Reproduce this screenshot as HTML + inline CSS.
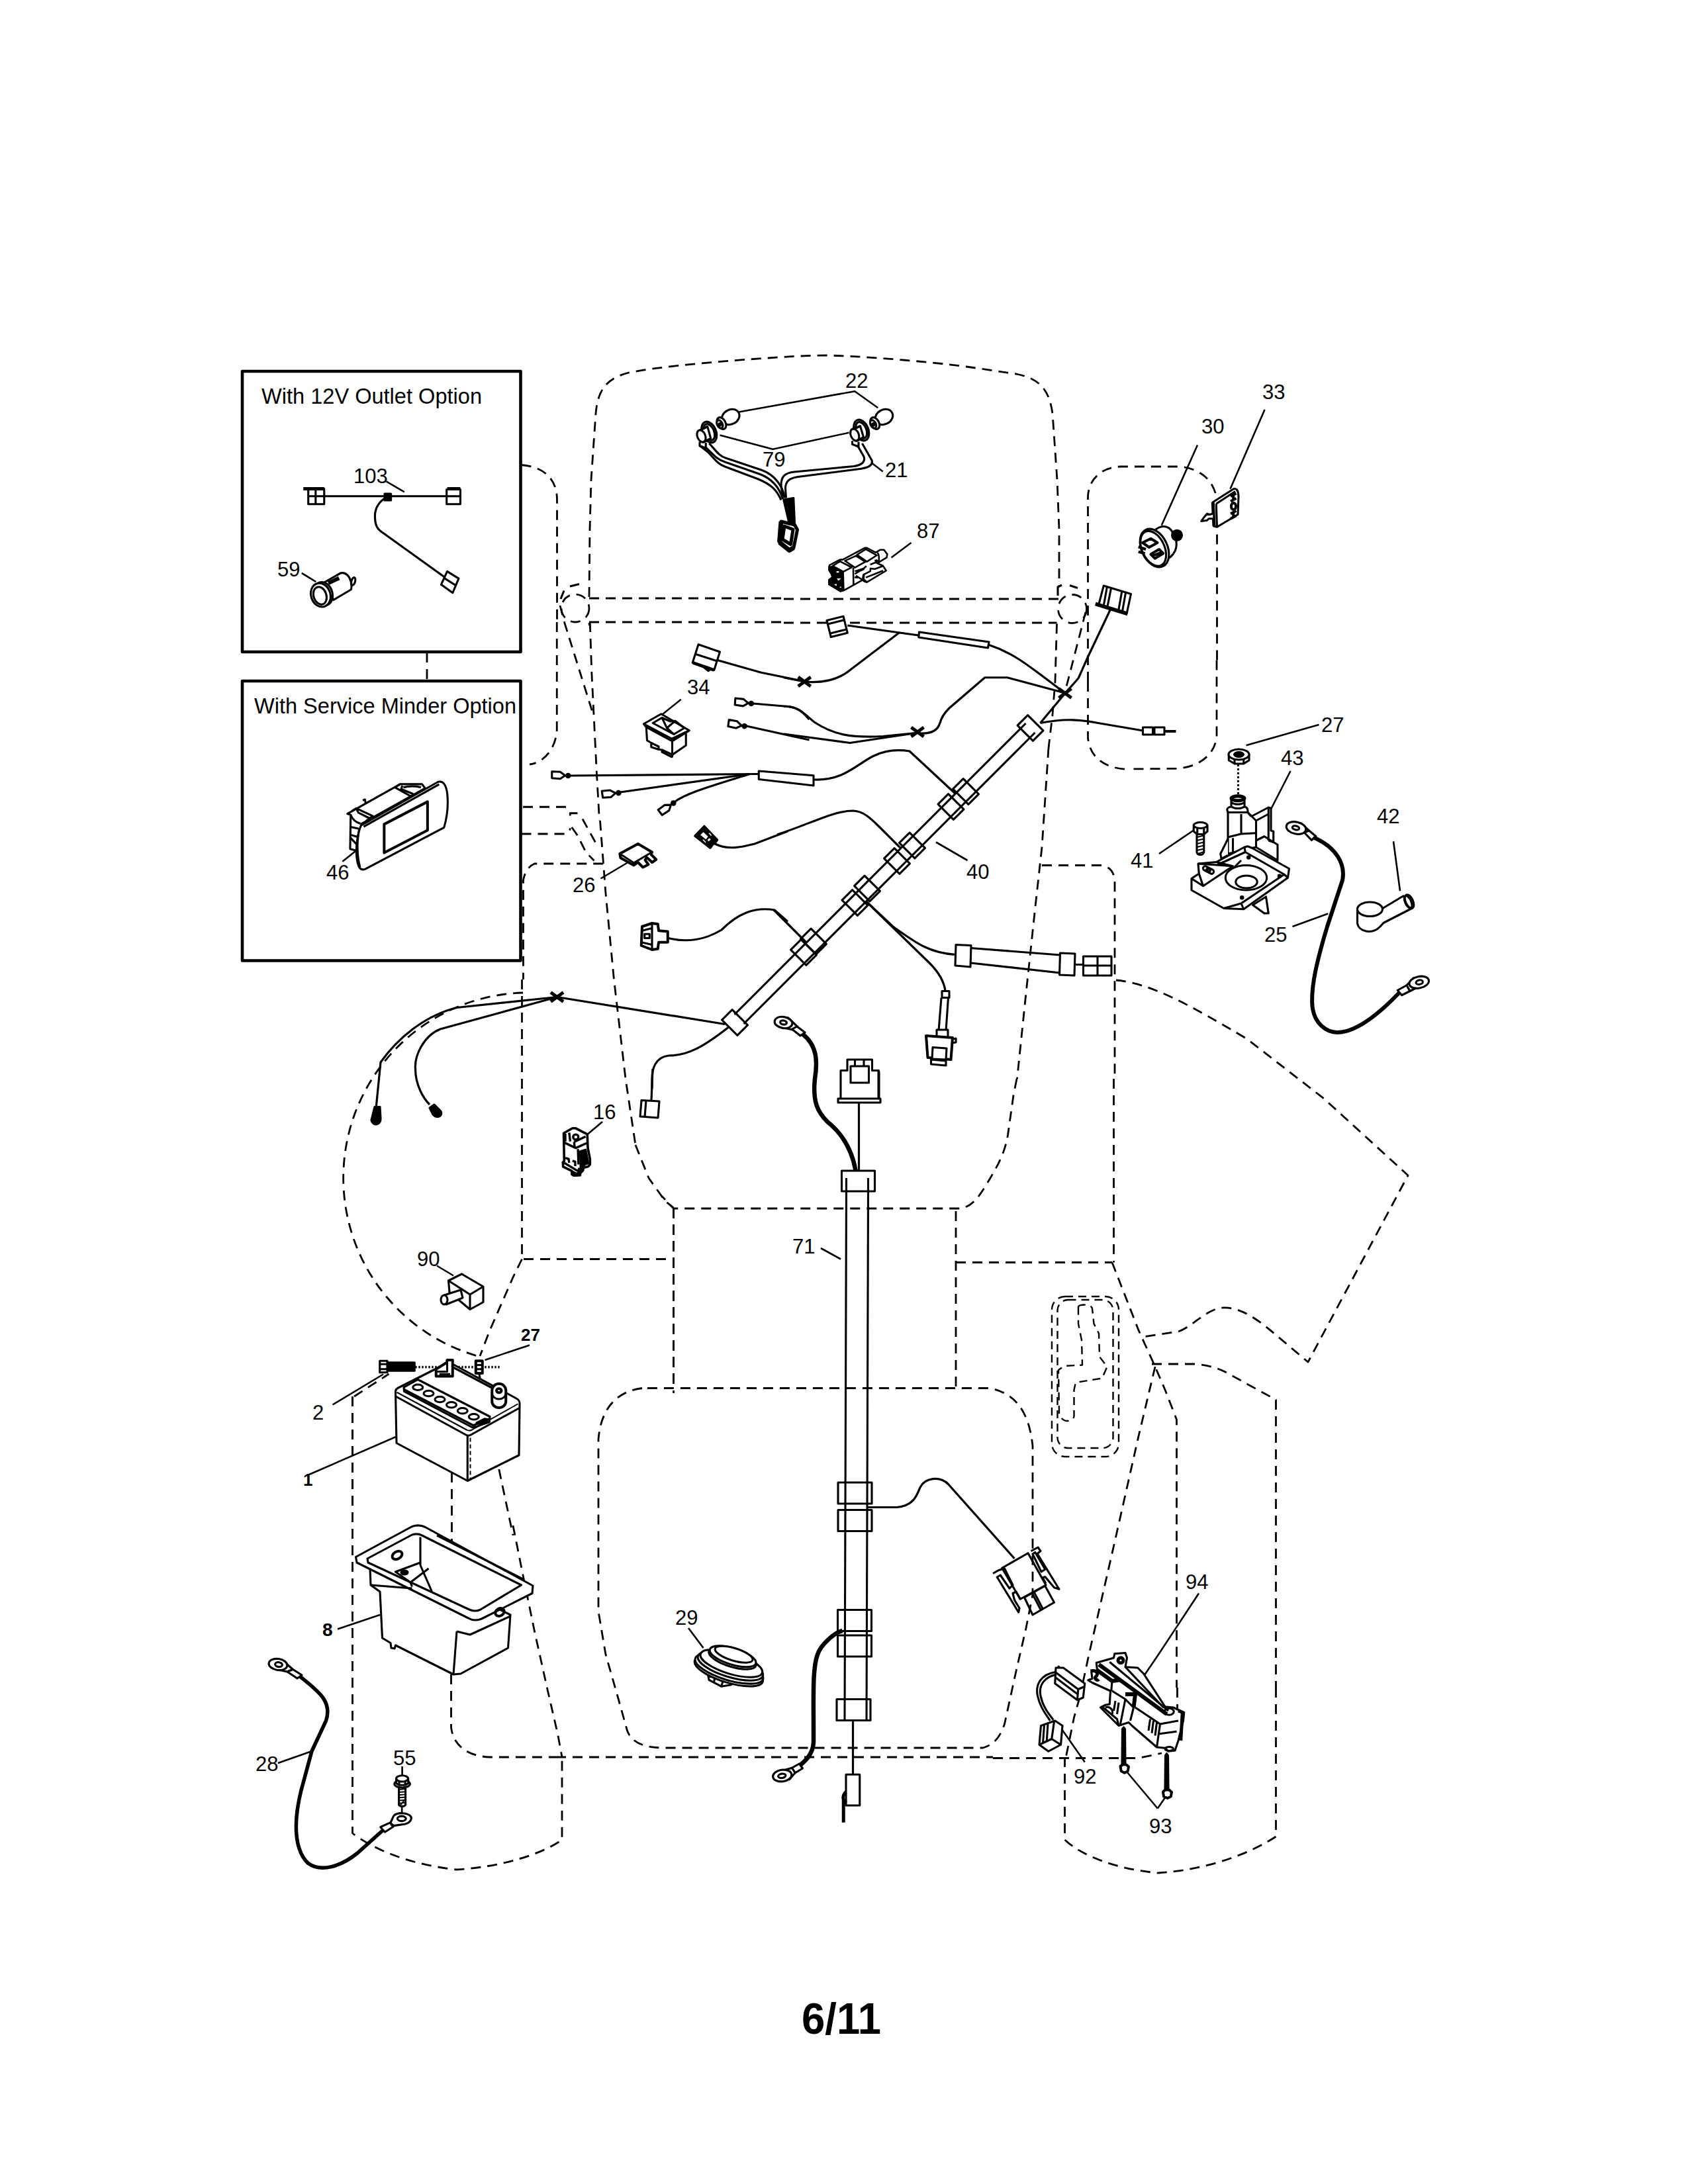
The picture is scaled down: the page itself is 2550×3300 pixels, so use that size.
<!DOCTYPE html>
<html lang="en">
<head>
<meta charset="utf-8">
<title>Electrical - Page 6/11</title>
<style>
html,body{margin:0;padding:0;background:#fff;}
body{width:2550px;height:3300px;overflow:hidden;}
svg{display:block;position:absolute;left:0;top:0;}
svg *{vector-effect:non-scaling-stroke;}
svg{fill:none;stroke:#000;stroke-width:3.1;stroke-linecap:butt;stroke-linejoin:round;}
.d{stroke-dasharray:15 10;stroke-width:2.8;}
.ds{stroke-dasharray:12 8;stroke-width:2.4;}
.l{stroke-width:2.6;}
.w{stroke-width:3.2;}
.k{stroke-width:7;stroke-linecap:round;}
.f{fill:#000;}
.wf{fill:#fff;}
text{font-family:"Liberation Sans",Arial,sans-serif;font-size:31px;fill:#000;stroke:none;}
text.b{font-weight:bold;font-size:26px;}
text.t{font-size:34px;}
text.pg{font-weight:bold;font-size:66px;}
</style>
</head>
<body>
<svg width="2550" height="3300" viewBox="0 0 2550 3300">
<rect x="0" y="0" width="2550" height="3300" fill="#fff" stroke="none"/>
<!-- option boxes -->
<rect x="366" y="561" width="420.5" height="424" stroke-width="4.6"/>
<text class="t" x="395" y="610" textLength="333" lengthAdjust="spacingAndGlyphs">With 12V Outlet Option</text>
<rect x="366" y="1029" width="420.5" height="422.5" stroke-width="4.6"/>
<text class="t" x="384" y="1078" textLength="396" lengthAdjust="spacingAndGlyphs">With Service Minder Option</text>
<path class="d" d="M645,986 V1029"/>
<text class="pg" x="1211" y="3073" textLength="120" lengthAdjust="spacingAndGlyphs">6/11</text>
<path class="d" d="M890,902 L891,800 L893,725 L900,625 C903,590 915,572 950,563 C1000,553 1100,545 1160,541 C1200,538 1230,537 1250,537 C1300,538 1400,546 1460,554 L1535,565 C1570,572 1585,588 1590,625 L1597,725 L1600,800 L1600,887"/>
<!-- dashed outlines top: A1 tile origin 340,530 (2x) -->
<g transform="translate(340,530) scale(0.5)">
<path class="d" d="M895,345 C960,350 1003,385 1003,450 L1003,820"/>
<path class="d" d="M1100,748 H1688 M1100,820 H1688"/>
<circle class="d" cx="1058" cy="778" r="42"/><path d="M1042,712 L1070,705 M1014,750 L1024,725"/>
<path class="d" d="M1012,770 L1025,820"/>
<path class="d" d="M1100,822 L1101,830"/>
</g>
<!-- A2 tile origin 1184,530 (2x) -->
<g transform="translate(1184,530) scale(0.5)">
<path class="d" d="M0,750 H830 M0,822 H825"/>
<circle class="d" cx="872" cy="780" r="43"/><path d="M828,740 V714 L840,708 M864,709 L888,717"/>
<path class="d" d="M825,825 L820,1000 L812,1100 L800,1200"/>
<path class="d" d="M912,790 L850,1030"/>
</g>
<!-- headlight harness (items 21,22,79) : 4x tile origin 1020,540 -->
<g transform="translate(1020,540) scale(0.25)">
<path class="l" d="M385,330 L1085,205 L1225,305"/>
<path class="l" d="M270,470 L590,555 L1050,455"/>
<path class="l" d="M1190,640 L1255,690"/>
<!-- left bulb -->
<g transform="translate(335,360) rotate(-28)"><ellipse rx="55" ry="44" class="wf"/></g>
<g transform="translate(280,398) rotate(-28)"><ellipse rx="24" ry="38" class="wf"/><ellipse cx="-12" rx="16" ry="26" class="wf"/><circle cx="-12" cy="2" r="7"/></g>
<!-- left socket -->
<g transform="translate(205,452) rotate(-22)"><ellipse rx="42" ry="66" class="wf"/><ellipse rx="30" ry="52"/></g>
<path class="wf" d="M150,440 L195,418 L215,490 L170,512 Z"/>
<g transform="translate(158,476) rotate(-22)"><ellipse rx="24" ry="38" class="wf"/></g>
<path d="M150,440 L195,418 M170,512 L215,492 M148,510 V535 L185,548 V515"/>
<!-- right bulb -->
<g transform="translate(1262,360) rotate(-28)"><ellipse rx="55" ry="44" class="wf"/></g>
<g transform="translate(1207,398) rotate(-28)"><ellipse rx="24" ry="38" class="wf"/><ellipse cx="-12" rx="16" ry="26" class="wf"/><circle cx="-12" cy="2" r="7"/></g>
<!-- right socket -->
<g transform="translate(1125,440) rotate(-22)"><ellipse rx="42" ry="66" class="wf"/><ellipse rx="30" ry="52"/></g>
<path class="wf" d="M1075,435 L1118,415 L1138,482 L1095,505 Z"/>
<g transform="translate(1085,468) rotate(-22)"><ellipse rx="24" ry="38" class="wf"/></g>
<path d="M1075,435 L1118,415 M1095,505 L1138,484 M1070,505 V525 L1108,540 V510"/>
<!-- wires -->
<path d="M150,535 L195,570 C245,620 250,640 300,660 L500,735 C580,768 612,800 640,862"/>
<path d="M185,545 C235,590 250,615 300,632 L510,705 C590,735 630,790 650,855"/>
<path d="M205,520 C245,560 262,595 305,608 L525,682 C605,712 650,780 662,850"/>
<path d="M1100,530 L1140,600 C1150,632 1128,650 1080,658 L720,692 C660,698 640,722 640,772 L650,855"/>
<path d="M1130,520 L1188,622 C1196,652 1170,668 1100,676 L742,722 C690,730 666,748 666,792 L670,850"/>
<!-- plug -->
<path d="M655,860 L715,850 L722,1000 L690,1010 Z" class="f"/>
<path stroke-width="5" d="M640,992 L722,1012 L738,1042 L716,1150 L690,1166 L630,1118 Z M660,1020 L712,1040 L698,1130 L648,1100 Z"/>
<path stroke-width="7" d="M640,992 L630,1118 M716,1150 L690,1166 L630,1118"/>
</g>
<text x="1277" y="586">22</text>
<text x="1152" y="705">79</text>
<text x="1337" y="721">21</text>
<text x="1385" y="813">87</text>
<!-- box1 contents: 6.0286x tile origin 440,700 -->
<g transform="translate(440,700) scale(0.165877)">
<path class="l" d="M865,165 L1030,262"/>
<path class="wf" d="M155,232 H300 V372 H155 Z"/>
<path d="M222,232 V372 M155,300 H300"/>
<path stroke-width="5" d="M110,232 H300"/>
<path class="w" d="M300,300 H1415"/>
<path class="f" d="M850,278 H908 V338 H850 Z"/>
<path class="wf" d="M1415,238 H1540 V372 H1415 Z"/>
<path d="M1415,300 H1540"/><path stroke-width="5" d="M1420,232 H1540"/>
<path class="w" d="M870,310 C790,350 762,420 762,480 C762,560 780,600 830,630 L1400,1040"/>
<path class="wf" d="M1420,985 L1525,1050 L1470,1180 L1365,1105 Z"/>
<path d="M1392,1045 L1498,1112"/>
<path class="l" d="M95,1000 L225,1080"/>
<!-- 59 socket -->
<path class="wf" d="M300,1085 L450,1000 C520,985 560,1080 545,1150 L385,1245 Z"/>
<g transform="translate(565,1075) rotate(15)"><ellipse rx="17" ry="36" class="wf"/></g>
<path stroke-width="6" d="M338,1092 L435,1046"/>
<g transform="translate(292,1188) rotate(-18)"><ellipse rx="82" ry="108" class="wf"/></g>
<g transform="translate(268,1200) rotate(-18)"><ellipse rx="88" ry="110" class="wf"/><ellipse cx="-8" cy="4" rx="58" ry="82"/></g>
</g>
<text x="534" y="730">103</text>
<text x="419" y="871">59</text>
<!-- 4x tile origin 800,940: switch 34, terminals -->
<defs>
<g id="term"><path class="wf" d="M0,-22 L50,-20 L80,2 L50,22 L0,18 Z"/><circle class="f" cx="98" cy="3" r="11"/><path d="M80,2 H98"/></g>
</defs>
<g transform="translate(800,940) scale(0.25)">
<path class="d" d="M165,0 V650 C160,760 90,850 0,860"/>
<path class="d" d="M210,0 L385,560"/>
<path class="d" d="M365,0 L375,300 L390,600 L405,900 L422,1200"/>
<!-- connector -->
<path class="wf" d="M1020,135 L1150,180 L1115,290 L985,245 Z"/>
<path d="M1002,193 L1135,236"/>
<path stroke-width="5" d="M988,246 L1115,290"/><path class="f" d="M1040,262 L1095,282 L1080,295 Z"/>
<path class="w" d="M1135,230 L1400,305 L1650,356"/>

<path class="l" d="M915,467 L800,560"/>
<!-- switch -->
<path class="wf" d="M690,615 L795,555 L965,655 L945,668 V745 L865,800 L860,815 L800,785 V772 L780,770 L735,755 V730 L710,715 L705,635 Z"/>
<path d="M690,615 L860,705 L965,655 M705,635 L862,720 L945,668 M862,705 V815 M735,730 L780,752 V770 M800,772 L860,800"/>
<path d="M745,610 L800,578 L850,600 L880,597 L935,640 L872,678 Z M800,578 L830,640 L872,678 M830,640 L880,597"/>
<!-- terminals -->
<use href="#term" transform="translate(1242,482) rotate(4)"/>
<path class="w" d="M1350,492 L1560,510 C1640,518 1660,560 1690,588"/>
<use href="#term" transform="translate(1202,612) rotate(8)"/>
<path class="w" d="M1310,628 L1690,712"/>
<use href="#term" transform="translate(135,925)"/>
<path class="w" d="M245,928 L1385,918"/>
<path class="wf" d="M1385,900 L1716,927 V988 L1385,950 Z"/>
<use href="#term" transform="translate(440,1043) rotate(-8)"/>
<path class="w" d="M548,1028 L1330,918"/>
<use href="#term" transform="translate(790,1152) rotate(-38)"/>
<path class="w" d="M872,1090 C940,1035 1100,990 1330,918"/>
</g>
<text x="1038" y="1049">34</text>
<!-- 4x tile origin 1184,790: item 87, upper wires -->
<defs><g id="xn"><path stroke-width="5" d="M-38,-28 L38,28 M-38,28 L38,-28"/><circle r="12" class="f" stroke="none"/></g></defs>
<g transform="translate(1184,790) scale(0.25)">
<path class="l" d="M650,210 L770,120"/>
<!-- connector + sleeve wire -->
<path class="wf" d="M260,590 L360,565 L385,665 L285,690 Z"/>
<path d="M266,612 L366,587 M282,668 L380,644"/>
<path class="w" d="M385,620 L815,680"/>
<path class="wf" d="M818,660 L1240,720 L1234,756 L815,692 Z"/>
<path class="w" d="M1238,737 C1400,790 1500,880 1690,1022"/>
<path class="w" d="M700,662 L400,890 C340,940 260,965 160,962 L125,960 L0,935"/>
<use href="#xn" transform="translate(125,960)"/>
<path class="w" d="M1690,1026 L1350,935 H1215 L1000,1120 C965,1155 950,1180 945,1210"/>
<path class="w" d="M0,1110 C80,1105 120,1150 185,1205"/>
</g>
<!-- 4x tile origin 1606,690: items 30,33, connector -->
<g transform="translate(1606,690) scale(0.25)">
<path class="d" d="M150,1360 V240 C155,130 240,62 350,60 H700 C820,70 895,130 922,225"/>
<path class="d" d="M930,470 V1230"/>
<path class="l" d="M812,-70 L595,415 M1218,-284 L1010,195"/>
<!-- 30 -->
<path class="wf" d="M560,440 C600,410 640,420 660,455 C690,500 700,560 650,605 L600,640 Z"/>
<circle class="f" cx="688" cy="475" r="30"/>
<g transform="translate(552,552) rotate(-25)"><ellipse rx="78" ry="122" class="wf"/><ellipse cx="-8" cy="0" rx="68" ry="112"/></g>
<path stroke-width="4" d="M480,520 L530,495 L570,520 L520,548 Z M530,590 L580,560 L605,585 L555,615 Z M455,545 L500,560 M455,575 L495,585 M540,600 L590,580"/>
<!-- 33 key -->
<path class="wf" d="M905,275 L1030,195 C1050,190 1058,205 1060,240 L1056,350 L930,425 L910,420 Z"/>
<path d="M925,285 L1040,210 M925,285 L930,425" />
<path stroke-width="5" d="M905,275 L912,420"/>
<path stroke-width="4" d="M1012,240 L1046,222 M1029,232 V262 M1012,270 L1046,252 M1012,345 L1046,327 M1029,337 V367 M1012,375 L1046,357"/>
<ellipse cx="1030" cy="300" rx="14" ry="20" stroke-width="4"/>
<path class="wf" d="M905,345 L885,350 L870,345 L850,368 L835,390 L870,385 L880,375 L905,375"/>
<!-- connector -->
<path class="wf" d="M245,780 L410,830 L385,945 L215,895 Z"/>
<path d="M265,790 L245,900 M290,795 L268,905 M355,815 L335,928 M378,822 L358,935"/>
<path stroke-width="6" d="M195,890 L390,950"/>
<path class="w" d="M285,925 L150,1210 L92,1340"/>
</g>
<text x="1815" y="655">30</text>
<text x="1907" y="603">33</text>
<!-- 4x tile origin 1780,1080: solenoid 43, nut 27, bolt 41, cable 25 top -->
<g transform="translate(1780,1080) scale(0.25)">
<path class="d" d="M232,-330 V130 C222,240 130,312 0,325 L-300,328"/>
<path class="l" d="M410,185 L850,60 M678,340 L560,570 M1300,765 L1340,1065 M-116,840 L90,700"/>
<!-- nut 27 -->
<path class="wf" d="M305,240 V275 L340,296 H395 L428,275 V240 Z"/>
<ellipse class="wf" cx="366" cy="240" rx="62" ry="32"/>
<ellipse class="f" cx="366" cy="240" rx="28" ry="14"/>
<path d="M340,270 V296 M395,270 V296"/>
<path stroke-dasharray="3 3" d="M362,300 V480"/>
<!-- bolt 41 -->
<path class="wf" d="M112,715 V830 C115,852 150,852 155,830 V715 Z"/>
<path stroke-width="2" d="M112,740 L155,730 M112,760 L155,750 M112,780 L155,770 M112,800 L155,790 M112,820 L155,810 M118,840 L150,830"/>
<path class="wf" d="M93,670 V705 L115,722 H155 L176,705 V670 Z"/>
<ellipse class="wf" cx="134" cy="668" rx="41" ry="18"/>
<path d="M115,688 V722 M155,688 V722"/>
<!-- solenoid -->
<path class="wf" d="M440,615 L545,560 L560,565 V700 L575,705 V770 L600,785 V880 L470,800 Z"/>
<path d="M545,560 V760 M470,640 L545,600 M575,770 L545,760 M600,880 L590,890"/>
<path class="wf" d="M300,590 V840 L470,800 V640 L420,590 Z"/>
<path class="wf" d="M295,575 C295,560 320,555 320,555 V510 C330,490 390,490 400,510 V555 C420,560 420,575 420,590 H300 Z"/>
<path d="M320,530 C340,545 380,545 400,530 M320,555 C340,570 380,570 400,555 M380,600 V720 M300,740 L380,720 L470,715 M330,745 V830 M420,590 L440,615 M470,760 L520,735 L575,770"/>
<ellipse cx="360" cy="505" rx="40" ry="14" stroke-width="5"/>
<path class="wf" d="M300,750 L255,840 L260,870 L300,850"/>
<!-- base -->
<path class="wf" d="M120,900 L230,890 L400,800 L420,795 L445,805 L670,930 L662,985 L395,1175 L275,1170 L80,1060 V990 L125,960 Z"/>
<path d="M400,800 L405,830 L230,910 M405,830 L640,965 L662,985 M640,965 L380,1140 L275,1170 M380,1140 L395,1175 M80,990 L150,1035 M125,960 L150,1035 L330,915 L120,900 M230,890 L330,915 M380,880 L340,920"/>
<ellipse cx="410" cy="985" rx="125" ry="75" class="wf"/>
<ellipse cx="412" cy="1010" rx="65" ry="38"/>
<g transform="translate(182,938) rotate(28)"><rect x="-35" y="-13" width="70" height="26" rx="13"/><ellipse rx="12" ry="7"/></g>
<circle class="f" cx="425" cy="862" r="7"/><circle class="f" cx="612" cy="975" r="7"/><circle class="f" cx="385" cy="1105" r="7"/>
<path class="wf" d="M450,1150 L530,1100 L545,1200 L520,1200 Z"/>
<!-- cable 25 top -->
<path class="wf" d="M740,655 L790,700 L762,712 L725,718 Z"/>
<g transform="translate(712,684) rotate(12)"><ellipse rx="60" ry="36" class="wf"/><ellipse cx="-2" rx="21" ry="12"/></g>
<path class="wf" d="M762,712 L790,700 L832,735 L805,758 Z"/>
</g>
<text x="1996" y="1106">27</text>
<text x="1935" y="1156">43</text>
<text x="2080" y="1244">42</text>
<text x="1708" y="1311">41</text>
<!-- 4x tile origin 1860,1300: cable 25, boot 42 -->
<g transform="translate(1860,1300) scale(0.25)">
<path stroke-width="6" stroke-linecap="round" d="M505,-135 C630,-80 692,20 672,120 L580,400 C520,600 480,760 490,880 C500,990 580,1040 640,1040 C760,1040 900,920 1015,800"/>
<path class="wf" d="M1005,785 L1060,755 L1080,790 L1030,815 Z"/>
<path class="wf" d="M1060,755 L1100,712 L1120,770 L1080,790 Z"/>
<g transform="translate(1135,737) rotate(-12)"><ellipse rx="60" ry="35" class="wf"/><ellipse cx="2" rx="21" ry="13"/></g>
<path class="l" d="M370,400 L585,322"/>
<!-- boot 42 -->
<path class="wf" d="M762,295 V380 C770,430 850,452 900,400 L920,378 L1095,288 L1040,215 L915,290 Z"/>
<ellipse class="wf" cx="838" cy="295" rx="76" ry="43"/>
<g transform="translate(1076,248) rotate(-25)"><ellipse rx="22" ry="44" class="wf"/><ellipse cx="-8" rx="18" ry="40"/></g>
</g>
<text x="1910" y="1423">25</text>
<!-- 2x tile origin 1184,1030: main harness 40 -->
<defs><g id="cl"><rect x="-22" y="-33" width="44" height="66"/></g></defs>
<g transform="translate(1184,1030) scale(0.5)">
<!-- dashed -->
<path class="d" d="M800,200 L780,500 L760,680 L730,960 L705,1200"/>
<path class="d" d="M919,0 V170 C925,230 970,262 1040,265 H1050"/>
<path class="d" d="M780,555 H960 C990,560 1000,580 1000,610 V1200"/>
<!-- conduit -->
<path d="M731,126 L-149,1006 M759,154 L-121,1034"/>
<path class="w" d="M775,125 L850,35 L890,-10"/>
<path class="w" d="M775,125 C850,110 900,115 950,125 L1085,148"/>
<path class="wf" d="M1085,138 H1115 V160 H1085 Z M1120,138 H1150 V160 H1120 Z"/><path stroke-width="4" d="M1150,150 H1185"/>
<path class="w" d="M472,124 C465,150 440,160 400,155 L300,165 C200,170 150,160 92,122"/>
<path class="w" d="M400,155 L200,185 L0,158"/>
<path class="w" d="M90,296 C180,300 220,250 270,225 C310,205 350,205 380,210 L520,340"/>
<path class="w" d="M-20,462 C80,430 150,390 210,390 C240,392 260,410 290,440 L355,505"/>
<path class="w" d="M250,665 L330,740 C400,790 440,820 520,825"/>
<path class="w" d="M250,665 L440,850 C470,880 485,910 488,935"/>
<path class="w" d="M-30,690 L70,790"/>
<use href="#xn" transform="translate(850,35) scale(0.5)"/>
<use href="#xn" transform="translate(404,152) scale(0.5)"/>
<g transform="translate(745,140) rotate(-45)"><use href="#cl"/></g>
<g transform="translate(550,332) rotate(-45)"><use href="#cl"/></g>
<g transform="translate(505,378) rotate(-45)"><use href="#cl"/></g>
<g transform="translate(388,495) rotate(-45)"><use href="#cl"/></g>
<g transform="translate(342,542) rotate(-45)"><use href="#cl"/></g>
<g transform="translate(252,625) rotate(-45)"><use href="#cl"/></g>
<g transform="translate(215,668) rotate(-45)"><use href="#cl"/></g>
<g transform="translate(90,785) rotate(-45)"><use href="#cl"/></g>
<g transform="translate(60,818) rotate(-45)"><use href="#cl"/></g>
<g transform="translate(-148,1030) rotate(-45)"><use href="#cl"/></g>
<!-- horizontal sleeve -->
<path d="M565,805 L835,826 M565,850 L835,880 M880,855 H905"/>
<path class="wf" d="M520,795 L566,797 L564,862 L518,858 Z M835,820 L880,822 L878,888 L833,886 Z"/>
<path class="wf" d="M905,830 H990 V888 H905 Z"/><path d="M948,830 V888 M905,858 H990"/>
<!-- vertical connector -->
<path class="wf" d="M478,935 H500 V955 H478 Z"/>
<path d="M476,955 L468,1055 M497,955 L490,1055"/>
<path class="wf" d="M462,1052 H496 V1075 H462 Z"/>
<path class="wf" stroke-width="4" d="M430,1070 L510,1076 L505,1142 L435,1136 Z"/>
<path class="wf" d="M450,1105 L492,1108 L490,1142 L448,1140 Z M445,1142 L490,1146 V1160 L445,1156 Z"/>
<path d="M510,1080 L520,1078 V1090 L508,1092"/>
<path class="l" d="M460,485 L555,540"/>
</g>
<text x="1460" y="1328">40</text>
<!-- 2x tile origin 340,1030: service minder 46, fuse 26, left wires -->
<g transform="translate(340,1030) scale(0.5)">
<path class="d" d="M1133,420 L1150,640 L1175,900 L1210,1200 L1240,1400"/>
<!-- wires left -->
<path class="w" d="M1003,953 L700,985 C600,1010 520,1080 470,1150 L455,1300"/>
<path class="w" d="M1003,953 L650,1050 C600,1070 572,1130 575,1170 C575,1220 600,1260 618,1278"/>
<path class="w" d="M1003,953 L1510,1035"/>
<use href="#xn" transform="translate(1003,953) scale(0.5)"/>
<path class="w" d="M1520,1045 C1450,1100 1400,1130 1340,1130 C1300,1135 1290,1170 1290,1200 V1230"/>
<!-- fuse 26 -->
<!-- connector plug -->
<path class="w" d="M1340,775 C1400,790 1450,780 1500,750 C1550,700 1600,680 1660,690 L1700,725"/>
<!-- dark connector -->
<path class="w" d="M1480,490 C1520,510 1560,500 1600,490 L1700,452"/>
<g transform="translate(1320,400) scale(0.165876)"><path class="f" d="M600,400 L770,220 L1010,470 L960,540 L930,550 L880,620 Z"/><path class="wf" stroke="none" d="M700,380 L755,330 L840,410 L800,460 Z M850,350 L870,345 L905,385 L895,400 Z M830,470 L860,440 L890,460 L850,500 Z M740,470 L760,465 L800,510 L790,525 Z"/></g>
</g>
<text x="493" y="1329">46</text>
<text x="865" y="1348">26</text>
<!-- 2x tile origin 340,1630: left arc, items 16, 90 -->
<path class="d" d="M790,1500 A280,280 0 0 0 725,2050"/>
<g transform="translate(340,1630) scale(0.5)">
<path class="d" d="M897,-300 V545 H1355"/>
<path class="d" d="M897,545 L870,600 L800,760 L770,838"/>
<path class="d" d="M1240,200 L1280,300 L1330,370 L1355,390"/>
<path class="d" d="M1355,390 V920"/>
<path class="d" d="M385,960 V1300"/>
<path class="d" d="M390,960 L495,892"/>
<path stroke-dasharray="2 3" d="M575,872 H830"/>
<!-- wire ends -->
<path class="f" d="M452,85 L468,85 L470,120 C472,140 445,145 442,125 Z"/>
<path class="f" d="M618,88 L632,78 L652,98 C660,112 640,122 628,108 Z"/>
<path class="w" d="M1292,-30 L1288,65"/>
<path class="wf" d="M1258,65 L1312,68 L1308,118 L1254,114 Z"/><path d="M1272,66 L1268,115"/>
<!-- 16 -->
<path class="l" d="M1140,130 L1090,172"/>
<!-- 90 -->
<path class="l" d="M640,565 L690,595"/>
<path class="wf" d="M675,610 L715,590 L780,628 V675 L740,697 L678,645 Z"/>
<path d="M675,610 L740,652 L780,628 M740,652 V697"/>
<path class="wf" d="M662,654 L712,638 L718,662 L668,682 Z"/>
<ellipse class="wf" cx="662" cy="668" rx="10" ry="14"/>
<path class="l" d="M920,805 L785,850 M325,985 L478,893"/>
</g>
<text x="896" y="1691">16</text>
<text x="630" y="1913">90</text>
<text class="b" x="787" y="2026">27</text>
<text x="472" y="2145">2</text>
<!-- 4x tile origin 520,2020: battery 1, bolt 2 -->
<g transform="translate(520,2020) scale(0.25)">
<path class="d" d="M650,820 V1900"/>
<path class="d" d="M935,800 L1020,1200"/>
<path class="l" d="M-212,832 L310,605"/>
<path stroke-dasharray="2 3" d="M430,181 H940"/>
<!-- battery body -->
<path class="wf" d="M310,330 C310,318 318,312 330,306 L600,170 C625,158 640,158 665,170 L1040,372 C1058,382 1062,392 1060,410 L1056,715 L745,870 L316,642 Z"/>
<path d="M312,360 L735,592 C745,598 755,598 765,592 L1058,430 M745,598 V870"/>
<path d="M318,335 L740,562 C750,568 760,568 772,562 L1050,405" stroke-width="2"/>
<path stroke-width="2" stroke-dasharray="6 4" d="M762,610 V860"/>
<!-- cap strip -->
<path class="wf" d="M360,305 L445,258 L880,482 L878,512 L800,542 L775,548 L362,330 Z"/>
<path d="M362,318 L780,535 L878,495"/>
<ellipse cx="445" cy="305" rx="30" ry="17"/><ellipse cx="510" cy="342" rx="30" ry="17"/><ellipse cx="578" cy="378" rx="30" ry="17"/><ellipse cx="648" cy="411" rx="30" ry="17"/><ellipse cx="715" cy="447" rx="30" ry="17"/><ellipse cx="783" cy="483" rx="30" ry="17"/>
<path class="f" d="M800,520 L850,495 L878,500 L876,515 L830,530 Z"/>
<!-- terminal -->
<path class="w" d="M660,185 L900,312"/>
<path class="wf" stroke-width="4" d="M893,325 A42,42 0 0 1 977,325 V390 A42,38 0 0 1 893,390 Z"/>
<path d="M893,340 A42,36 0 0 0 977,340"/><ellipse cx="935" cy="325" rx="15" ry="12" stroke-width="4"/>
<!-- bracket -->
<path class="wf" stroke-width="4" d="M555,195 L620,155 L622,140 L655,140 V238 H555 Z"/>
<path d="M555,210 H622 V155 M575,225 H640"/>
<!-- bolt 2 -->
<path class="wf" d="M215,145 H260 V215 H215 Z"/><path d="M215,165 H260 M215,195 H260"/>
<path class="f" d="M262,155 H425 V205 H262 Z"/>
<!-- nut -->
<path class="wf" stroke-width="4" d="M795,145 H835 V220 H795 Z"/><path d="M795,170 H835 M795,195 H835 M815,220 L822,260"/>
</g>
<text class="b" x="458" y="2245">1</text>
<!-- 2x tile origin 1000,1480: conduit 71 top, connector, hood bottom -->
<g transform="translate(1000,1480) scale(0.5)">
<path class="d" d="M1072,300 L1062,350 L1045,470 C1035,530 1010,570 980,620 C950,670 930,688 900,692 H35 L0,655"/>
<path class="d" d="M35,692 V1250"/>
<path class="d" d="M888,700 V1250"/>
<path class="d" d="M888,855 H1360"/>
<path class="d" d="M1365,300 V855"/>
<!-- ring terminal and thick cable -->
<path class="wf" d="M380,115 L410,143 L395,152 L372,147 Z"/>
<g transform="translate(367,130) rotate(10)"><ellipse class="wf" rx="27" ry="17"/><ellipse rx="10" ry="6"/></g>
<path class="wf" d="M393,150 L408,142 L432,160 L418,170 Z"/>
<path stroke-width="6.5" d="M425,165 C470,200 470,250 462,300 C455,370 470,400 500,430 C550,470 575,520 585,577"/>
<!-- connector -->
<path class="wf" d="M560,242 H635 V275 H655 V360 H660 V372 H532 V360 H540 V275 H560 Z"/>
<path d="M570,262 H625 V312 H570 Z M583,242 V262 M610,242 V262 M540,360 H655"/>
<path stroke-width="4" d="M655,278 V360"/>
<path class="w" d="M595,372 V577"/>
<!-- conduit 71 -->
<path d="M543,578 H643 V640 H543 Z M557,600 V640 M623,600 V640"/>
<path class="l" d="M480,812 L540,845"/>
</g>
<text x="1197" y="1894">71</text>
<!-- platform outline (global) -->
<path class="d" d="M1686,1481 C1740,1486 1800,1520 1884,1570 L2000,1660 L2127,1776 L1976,2058 L1925,2015 C1890,1985 1865,1972 1840,1977 C1815,1985 1800,2005 1780,2012 L1727,2020"/>
<!-- 2x tile origin 1500,1900: right fender top, shifter slot -->
<g transform="translate(1500,1900) scale(0.5)">
<path class="d" d="M360,15 L440,220 L490,330 L520,400 L555,490 V1300"/>
<path class="d" d="M480,322 H610 C650,325 680,335 700,345 L855,430 V1300"/>
<path class="d" d="M490,330 L440,540 L370,850 L290,1200 L262,1330"/>
<rect class="ds" x="178" y="118" width="202" height="484" rx="40"/>
<rect class="ds" x="195" y="128" width="168" height="448" rx="32"/>
<path class="ds" d="M258,150 C258,140 300,140 300,155 L305,200 L320,230 L322,300 L345,330 L330,365 L250,378 L245,400 V480 C240,500 205,500 200,470 L198,340 L215,328 L270,325 L268,250 L258,200 Z"/>
<path class="l" d="M622,1015 L500,1200 L432,1300"/>
</g>
<text x="1791" y="2401">94</text>
<!-- 2x tile origin 840,2060: seat outline, conduit 71 lower, item 29 -->
<defs><g id="vc"><rect x="-51" y="-32" width="102" height="64"/></g></defs>
<g transform="translate(840,2060) scale(0.5)">
<path class="d" d="M260,75 C180,85 135,140 128,230 V750 L150,880 L190,1020 L215,1110 C230,1150 270,1160 320,1162 H1290 C1330,1150 1345,1120 1355,1090 L1390,930 L1420,800 L1440,700 V250 C1430,150 1390,90 1310,75 Z"/>
<path class="d" d="M0,1190 H1320"/>
<!-- conduit -->
<path d="M877,-520 L872,1078 M943,-520 L938,1078"/>
<path class="w" d="M897,1078 V1242"/>
<use href="#vc" transform="translate(903,392)"/><use href="#vc" transform="translate(903,475)"/><use href="#vc" transform="translate(902,777)"/><use href="#vc" transform="translate(902,854)"/><use href="#vc" transform="translate(899,1047)"/>
<path class="w" d="M940,435 H1030 C1080,430 1090,400 1100,375 C1115,345 1160,340 1185,365 L1385,590"/>
<path stroke-width="6.5" d="M865,808 C840,815 800,850 790,880 C775,920 778,1000 778,1100 V1145 C776,1180 755,1200 738,1214"/>
<!-- 29 -->
<path class="l" d="M400,800 L445,860"/>
</g>
<g transform="translate(1020,2440) scale(0.12441)">
<path class="wf" d="M400,740 L410,790 L560,870 L680,850 L690,810 Z"/><path d="M480,770 L470,820 M580,800 L560,870"/>
<g transform="translate(650,685) rotate(17)"><ellipse class="wf" rx="432" ry="138"/></g>
<g transform="translate(655,655) rotate(17)"><ellipse class="wf" rx="430" ry="138"/></g>
<g transform="translate(670,622) rotate(17)"><ellipse class="wf" rx="412" ry="134"/></g>
<g transform="translate(682,590) rotate(17)"><ellipse class="wf" rx="392" ry="128"/></g>
<g transform="translate(695,528) rotate(17)"><ellipse class="wf" rx="300" ry="104"/></g>
<g transform="translate(700,505) rotate(17)"><ellipse class="wf" rx="292" ry="100"/></g>
<g transform="translate(712,480) rotate(17)"><ellipse class="wf" rx="238" ry="76"/></g>
</g>
<text x="1020" y="2455">29</text>
<!-- 2x tile origin 340,2230: tray 8, cable 28, bolt 55, left rear fender -->
<g transform="translate(340,2230) scale(0.5)">
<path class="d" d="M385,-240 V1080 C450,1130 560,1175 700,1190 C850,1180 960,1140 1018,1100 V855"/>
<path class="d" d="M683,600 V760 C690,820 740,848 800,850 H1000"/>
<path class="d" d="M870,150 L900,300 L935,470 L975,650 L1005,780 L1018,850"/>
<!-- tray 8 -->
<path class="wf" d="M438,280 L440,330 L468,350 L475,490 L500,505 L502,520 L512,522 L515,512 L690,600 L712,598 L855,520 L862,420 L700,340 Z"/>
<path class="wf" d="M395,245 L565,153 C580,148 595,150 605,155 L930,332 L928,355 L775,432 C760,438 745,436 735,430 L398,262 Z"/>
<path class="wf" d="M430,250 L565,178 C578,174 588,176 595,180 L895,330 L770,405 C758,410 748,408 740,405 L432,262 Z"/>
<path d="M590,185 V270 L625,350 M590,262 L515,290 L560,322 L615,280 M560,322 L565,335 M700,470 L690,600 M700,470 L740,480 L860,425 M440,330 L565,340 M640,180 L900,312"/>
<g transform="translate(520,240) rotate(-30)"><ellipse rx="16" ry="11" stroke-width="4"/></g>
<g transform="translate(830,412) rotate(-30)"><ellipse rx="14" ry="11" stroke-width="4"/></g>
<ellipse cx="542" cy="292" rx="10" ry="6" class="f"/>
<path class="l" d="M340,463 L468,420 M160,868 L262,832"/>
<!-- cable 28 -->
<path class="wf" d="M172,556 L205,585 L188,592 L165,587 Z"/>
<g transform="translate(160,570) rotate(8)"><ellipse class="wf" rx="28" ry="17"/><ellipse cx="2" rx="11" ry="7"/></g>
<path class="wf" d="M188,592 L205,585 L232,602 L218,612 Z"/>
<path stroke-width="5.5" d="M225,605 C280,650 325,680 305,740 L262,832 L230,950 C205,1050 210,1130 250,1170 C290,1200 350,1180 400,1140 L478,1070"/>
</g>
<text class="b" x="487" y="2472" style="font-size:28px">8</text>
<text x="386" y="2676">28</text>
<text x="594" y="2667">55</text>
<!-- 2x tile origin 1500,2380: right rear fender dashed -->
<g transform="translate(1500,2380) scale(0.5)">
<path class="d" d="M855,340 V790 C780,840 650,890 500,900 C380,890 270,850 217,800 V555"/>
<path class="d" d="M557,340 V420"/>
<path class="d" d="M0,553 H440 L510,538"/>
<path class="d" d="M262,370 L245,430 L220,553"/>
</g>
<!-- 4x tile origin 1540,2480: items 92,93,94 -->
<g transform="translate(1540,2480) scale(0.25)">
<path class="l" d="M835,1010 L650,790 M835,1010 L880,945 M255,530 L395,730"/>
<!-- 94 -->
<path class="wf" d="M465,130 L570,100 L575,75 L640,70 L650,100 L640,155 L715,160 L750,195 L880,395 L930,400 L995,430 L990,480 L960,600 L940,660 L900,665 L880,645 L830,640 L680,510 L660,490 L600,510 L490,400 L520,385 L545,380 L550,300 L440,250 L415,235 L440,225 L435,185 L470,175 Z"/>
<path stroke-width="6" d="M480,140 L890,440 M470,175 L560,240 L600,235 M640,320 L700,320 L690,400"/>
<path d="M545,125 L900,420 M640,155 L870,400 M560,240 L555,300 M600,235 L625,250 M560,300 L640,350 L610,500 M640,350 L690,400 L670,480 M700,400 L850,500 L830,640 M850,500 L960,480 M840,560 L950,545 M790,470 L780,540 M810,480 L800,555 M830,490 L820,570 M580,360 L570,420 M600,370 L590,440 M500,395 L590,470 L600,510 M520,400 C540,390 570,410 560,440"/>
<circle cx="612" cy="115" r="16" stroke-width="5"/>
<ellipse cx="905" cy="425" rx="28" ry="20"/><ellipse cx="905" cy="650" rx="25" ry="12"/>
<path stroke-width="5" d="M960,420 L985,430 L975,600"/>
<path stroke-width="5" d="M430,180 C470,170 480,200 460,215 C450,225 470,240 480,230"/>
<!-- 92 -->
<path d="M220,185 C130,200 95,260 110,330 C125,400 160,440 185,480 M225,200 C150,215 115,265 128,330 C140,390 170,430 205,475"/>
<path class="wf" d="M220,160 L265,160 L395,255 L385,340 L350,355 L215,255 Z"/>
<path d="M222,190 L355,290 L390,275 M220,220 L352,320 M355,290 L350,355 M240,148 L232,160"/>
<path class="wf" d="M130,510 L215,480 L260,510 L250,625 L175,665 L120,625 Z"/>
<path d="M120,625 L195,590 L250,625 M195,590 L210,485 M150,505 L142,615 M172,497 L165,605"/>
<!-- screws 93 -->
<path class="f" d="M622,530 L630,520 L638,530 L640,750 H620 Z"/>
<path class="wf" stroke-width="4" d="M610,755 L625,745 H645 L660,758 L655,785 L635,795 L615,785 Z"/>
<path class="f" d="M882,690 L890,678 L898,690 L900,900 H880 Z"/>
<path class="wf" stroke-width="4" d="M868,910 L880,898 H905 L920,912 L915,938 L895,948 L872,938 Z"/>
</g>
<text x="1622" y="2695">92</text>
<text x="1736" y="2770">93</text>
<!-- 4x tile origin 1100,2560: conduit end, ring terminal -->
<g transform="translate(1100,2560) scale(0.25)">
<path class="wf" d="M385,445 L430,420 L450,448 L405,475 Z"/>
<path class="wf" d="M385,445 L340,458 L370,515 L405,475 Z"/>
<g transform="translate(327,492) rotate(-8)"><ellipse class="wf" rx="57" ry="35"/><ellipse cx="-2" cy="1" rx="23" ry="13"/></g>
<path class="wf" d="M712,485 H795 V672 H712 Z"/>
<path stroke-width="5" d="M697,775 V640 C690,620 700,600 712,590 M697,660 L712,640"/>
</g>
<!-- 4x tile origin 1400,2220: seat switch connector -->
<g transform="translate(1400,2220) scale(0.25)">
<path d="M455,597 L612,507 L720,700 L565,785 Z"/>
<path d="M400,630 L435,610 L470,600 L520,700 L500,720 L445,640 L425,652 L555,865 L560,840 L530,790 L520,750 L540,740 L565,785"/>
<path d="M630,495 L672,472 L688,495 L668,510 L800,725 L770,715 L715,650 L700,655 L720,690"/>
<path d="M640,512 L655,502 L715,605 L692,620 Z"/>
<path d="M590,775 L715,705 L770,805 L640,880 Z M650,745 L702,845 M638,752 L690,852"/>
</g>
<!-- 4x tile origin 660,1180: fuse 26, plug, small dashed shapes -->
<g transform="translate(660,1180) scale(0.25)">
<path class="d" d="M520,157 H780"/>
<path class="d" d="M850,195 H805 V245"/>
<path class="d" d="M510,320 H760 C790,320 805,305 805,285"/>
<path class="d" d="M880,230 L960,375"/>
<path class="d" d="M815,280 L850,330 L900,430 L950,482"/>
<path class="d" d="M1005,500 H590 C555,515 530,550 522,600 V1200"/>
<path class="l" d="M990,590 L1150,495"/>
<path class="wf" stroke-width="4" d="M1105,440 L1215,380 L1300,430 L1295,445 L1325,475 L1300,492 L1268,462 L1258,478 L1278,505 L1245,522 L1215,492 L1190,510 L1110,465 Z"/>
<path d="M1105,440 L1190,495 L1300,430 M1190,495 V510"/>
<path class="wf" stroke-width="4" d="M1240,880 L1300,860 L1335,865 L1340,905 L1395,910 V975 L1340,975 L1335,1015 L1300,1020 L1235,995 Z"/>
<path d="M1300,860 V1020 M1255,925 H1285 V950 H1255 Z M1240,905 L1300,890 M1236,975 L1300,990"/>
</g>
<!-- 6.03x tile origin 480,1150: service minder 46 -->
<g transform="translate(480,1150) scale(0.165877)">
<path class="l" d="M225,915 L350,815"/>
<path class="wf" d="M270,480 L750,210 H950 L978,248 L400,570 L350,815 L295,800 L300,490 Z"/>
<path d="M750,210 L705,240 L850,322 L975,250 M770,225 L760,255 L870,300 M780,240 C830,225 900,225 940,240 M310,455 L350,430 L500,500 L440,545 M350,430 L370,470 L470,520 M300,490 C320,540 350,560 390,570 M300,600 L370,615 M295,670 L360,690 M300,700 L355,760 M410,358 L430,350 L437,385"/>
<path class="wf" d="M395,585 L1095,190 C1140,175 1170,215 1180,300 C1190,400 1175,520 1150,605 L430,985 C385,1000 365,960 355,880 C345,800 360,660 395,585 Z"/>
<path d="M418,598 L1105,212 M380,610 C355,720 355,860 385,965"/>
<path stroke-width="4" d="M605,575 L1000,370 V630 L605,835 Z"/>
</g>
<!-- 12.06x tile origin 820,1660: item 16 -->
<g transform="translate(820,1660) scale(0.082938)">
<path class="wf" stroke-width="3.6" d="M380,630 L540,540 H600 L810,650 L820,900 L860,1100 V1200 L830,1235 L740,1260 L730,1310 L680,1360 V1395 L560,1400 L530,1380 V1320 L370,1240 L365,1160 L390,1140 Z"/>
<path stroke-width="3.4" d="M390,800 L600,900 L800,810 M640,920 L650,1200 M410,640 V780 M480,620 L500,780 M570,790 L580,880 M570,790 L780,690 M410,1080 L470,1100 L480,1170 M540,1130 L590,1150 V1230 M390,1170 L620,1310 L660,1300 V1260"/>
<circle cx="600" cy="700" r="48" stroke-width="3.4"/>
<path class="f" d="M680,960 L780,930 L830,1180 L780,1195 L740,985 L720,1000 L760,1210 L740,1262 L730,1312 L680,1360 V1395 L560,1400 L530,1380 V1322 L620,1370 L690,1290 Z"/>
</g>
<!-- 12.06x tile origin 540,2650: bolt 55 + ring terminal -->
<g transform="translate(540,2650) scale(0.082938)">
<path class="l" d="M815,230 V390 M810,960 V1180"/>
<path class="wf" d="M600,1260 L660,1130 C720,1060 900,1070 960,1130 C1010,1180 960,1260 860,1280 L660,1310 Z"/>
<ellipse cx="805" cy="1180" rx="78" ry="45"/>
<path class="wf" d="M420,1335 L590,1255 L650,1330 L500,1425 Z"/>
<path class="wf" d="M755,600 V930 C770,965 860,965 875,930 V600 Z"/>
<path stroke-width="2" d="M755,650 L875,640 M755,700 L875,690 M755,750 L875,740 M755,800 L875,790 M755,850 L875,840 M755,900 L875,890 M780,940 L850,850"/>
<ellipse class="wf" cx="815" cy="550" rx="142" ry="66"/>
<path class="wf" d="M705,450 V535 L760,570 H870 L925,535 V450 Z"/>
<path d="M760,500 V570 M870,500 V570"/>
<ellipse class="wf" cx="815" cy="450" rx="108" ry="56"/>
</g>
<!-- 12.06x tile origin 1240,810: item 87 -->
<g transform="translate(1240,810) scale(0.082938)" stroke-width="2.6">
<path class="wf" d="M150,560 L160,530 L350,430 H400 L800,215 H840 L1000,300 L1080,250 H1150 L1210,330 L1200,390 L1050,480 L1060,510 L1130,540 L1190,630 L840,840 L800,830 L760,800 L420,990 L360,1005 L150,880 V800 L210,750 L200,700 L150,620 Z"/>
<path class="f" d="M215,560 L405,660 L415,990 L360,1005 L150,880 V800 L210,750 L200,700 L150,620 L160,560 Z"/>
<path class="wf" stroke="none" d="M285,640 H330 V665 H285 Z M290,775 L370,770 L320,815 Z M240,880 L290,870 L285,910 Z M340,935 L365,915 L375,945 Z"/>
<path d="M215,545 L350,460 L560,570 L410,650 Z M440,450 L640,360 L810,470 L620,575 Z M660,340 L820,240 L1020,350 L840,465 Z"/>
<path d="M590,575 L595,880 M1030,300 C1060,330 1070,420 1050,470 M620,640 L660,630 L780,590 L830,545 M620,690 L700,640 L790,600 M640,720 L760,800 L780,700 L900,640 L905,590 L985,600 L1130,545 M820,755 L1135,630 M615,750 L680,760 M900,520 L1000,480 L1060,510 M980,450 L1020,440 V480"/>
<path stroke-width="3.5" d="M780,705 L775,790 L830,835"/>
</g>
</svg>
</body>
</html>
